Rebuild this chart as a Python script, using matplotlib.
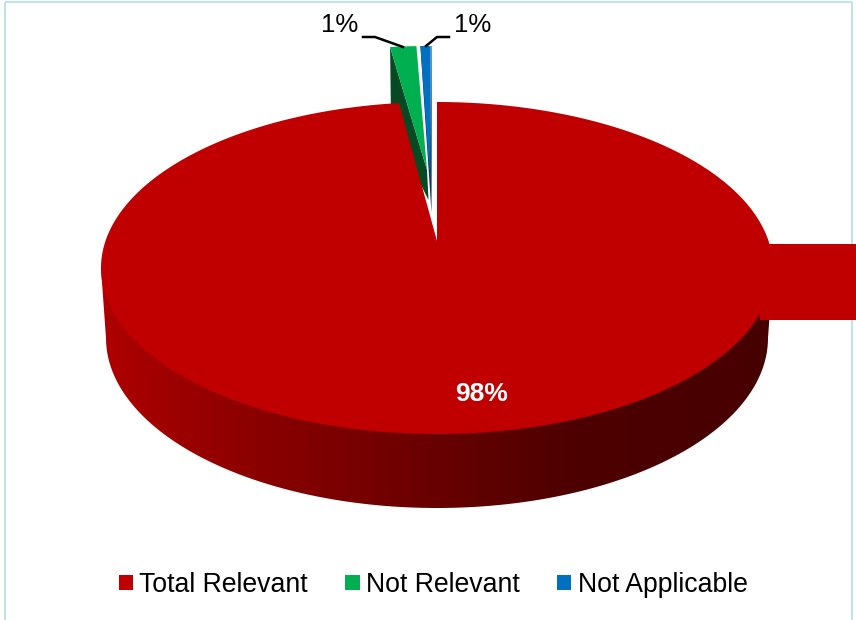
import matplotlib
matplotlib.use('Agg')
import matplotlib.pyplot as plt
import numpy as np
from matplotlib.colors import LinearSegmentedColormap
from matplotlib.patches import Patch, Polygon, Rectangle

categories = ['Total Relevant', 'Not Relevant', 'Not Applicable']
values = [98.2, 1.25, 0.55]
labels = ['98%', '1%', '1%']
colors = ['#C00000', '#00B050', '#0070C0']

plt.rcParams['font.family'] = ['Liberation Sans', 'DejaVu Sans']

# everything is placed in pixels of the 856x620 picture
fig = plt.figure(figsize=(8.56, 6.2), dpi=100)
ax = fig.add_axes([0, 0, 1, 1])
ax.set_xlim(0, 856)
ax.set_ylim(620, 0)
ax.axis('off')

# pie geometry: tilted disc, top face and lower edge
cx, cy, rx, ry = 437, 268, 336, 166
low_cy, low_rx, low_ry = 338, 331, 170


def rim(deg, dx=0, dy=0):
    t = np.radians(deg)
    return np.column_stack([cx + dx + rx * np.sin(t), cy + dy - ry * np.cos(t)])


# slice angles, clockwise from 12 o'clock
ends = np.cumsum(values) / sum(values) * 360
starts = ends - np.array(values) / sum(values) * 360

# chart frame
for xs, ys in [([5.5, 5.5], [620, 1.5]), ([5.5, 852.5], [1.5, 1.5]), ([852.5, 852.5], [1.5, 620])]:
    ax.plot(xs, ys, color='#BFE3E8', lw=1.5, zorder=1, solid_capstyle='butt')

# green slice, pulled out
g_rim = rim(np.linspace(starts[1], ends[1], 12), -9, -56)
g_top = (427, 170)
g_low = (428.5, 200)
ax.add_patch(Polygon([g_rim[0], g_top, g_low, (g_rim[0][0] + 1, 125)], color='#064A24', lw=0, zorder=2))
ax.add_patch(Polygon(np.vstack([g_rim, [g_top]]), color=colors[1], lw=0, zorder=3))

# blue slice, pulled out
b_rim = rim(np.linspace(starts[2], ends[2], 8), -5, -56)
ax.add_patch(Polygon(np.vstack([b_rim, [(431.5, 213)]]), color='#0B3460', lw=0, zorder=2))
ax.add_patch(Polygon(np.vstack([b_rim, [(429.5, 172)]]), color=colors[2], lw=0, zorder=3))
ax.add_patch(Polygon([b_rim[-1], (b_rim[-1][0] - 2, b_rim[-1][1]), (431, 190)], color='#5B9BD5', lw=0, zorder=3))

# red slice side wall with the left to right shading
t = np.radians(np.linspace(-90, 90, 181))
wall = np.vstack([[(cx - rx, cy)],
                  np.column_stack([cx + low_rx * np.sin(t), low_cy + low_ry * np.cos(t)]),
                  [(cx + rx, cy)]])
shade = LinearSegmentedColormap.from_list('wall', [(0, '#AE0000'), (0.22, '#8C0000'), (0.5, '#680000'),
                                                   (0.7, '#4E0000'), (1, '#470000')])
img = ax.imshow(np.linspace(0, 1, 256)[None, :], cmap=shade, extent=(cx - rx, cx + rx, 520, 260),
                aspect='auto', zorder=4)
img.set_clip_path(Polygon(wall, transform=ax.transData))
ax.set_xlim(0, 856)
ax.set_ylim(620, 0)

# red slice top face
r_rim = rim(np.linspace(starts[0], ends[0], 400))
ax.add_patch(Polygon(np.vstack([[(cx, 241)], r_rim]), color=colors[0], lw=0, zorder=5))

# red block at the right edge
ax.add_patch(Rectangle((760, 244), 96, 76, color=colors[0], lw=0, zorder=6))

# leader lines
ax.plot([363, 375, 403], [37, 37, 47], color='black', lw=1.8, zorder=7)
ax.plot([449, 437, 426], [37, 37, 46], color='black', lw=1.8, zorder=7)

ax.text(482, 394, labels[0], color='white', fontsize=19, fontweight='bold', ha='center', va='center', zorder=8)
ax.text(358, 25, labels[1], color='black', fontsize=18.5, ha='right', va='center', zorder=8)
ax.text(454, 25, labels[2], color='black', fontsize=18.5, ha='left', va='center', zorder=8)

handles = [Patch(color=c, lw=0) for c in colors]
ax.legend(handles, categories, ncol=3, loc='center', bbox_to_anchor=(433 / 856, 1 - 585 / 620),
          frameon=False, fontsize=19.2, handlelength=0.53, handleheight=0.53, handletextpad=0.23,
          columnspacing=1.42, borderpad=0, labelcolor='black')

fig.savefig('out.png', dpi=100)
